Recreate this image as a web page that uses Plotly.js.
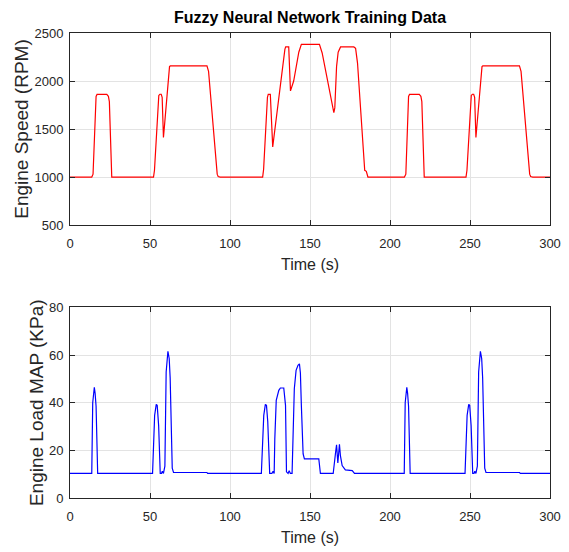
<!DOCTYPE html>
<html>
<head>
<meta charset="utf-8">
<script src="https://cdn.plot.ly/plotly-3.0.1.min.js"></script>
<style>html,body{margin:0;padding:0;background:#fff;}#chart{width:569px;height:552px;}</style>
</head>
<body>
<div id="chart"></div>
<script>
// Engine speed (RPM) vs time (s)
var speedTime = [0, 13.6, 14.4, 16.3, 16.9, 23.0, 24.0, 24.6, 26.1,
  52.2, 52.8, 55.5, 56.2, 57.0, 57.6, 58.4, 59.0, 60.5, 62.2, 62.7, 85.6, 86.6, 92.0, 92.6, 93.9,
  120.4, 121.0, 123.4, 123.9, 125.2, 126.7, 134.3, 134.8, 136.7, 137.8, 139.8, 143.0, 144.6, 155.9, 157.6, 164.9, 165.5, 166.6, 167.6, 169.1, 177.4, 178.5, 179.7, 184.2, 185.2, 186.2,
  209.0, 209.9, 211.6, 212.2, 218.3, 219.3, 219.9, 221.4,
  247.5, 248.1, 250.8, 251.5, 252.3, 252.9, 253.7, 254.3, 255.8, 257.5, 258.0, 280.9, 281.9, 287.3, 287.9, 289.2, 300];
var speedRpm = [1000, 1000, 1030, 1840, 1860, 1860, 1840, 1785, 1000,
  1000, 1070, 1850, 1862, 1862, 1830, 1412, 1525, 1850, 2150, 2157, 2157, 2100, 1030, 1005, 1000,
  1000, 1080, 1830, 1860, 1860, 1314, 2330, 2355, 2355, 1897, 2000, 2300, 2382, 2382, 2292, 1670, 1720, 2150, 2300, 2355, 2355, 2340, 2187, 1070, 1060, 1000,
  1000, 1030, 1840, 1860, 1860, 1840, 1785, 1000,
  1000, 1070, 1850, 1862, 1862, 1830, 1412, 1525, 1850, 2150, 2157, 2157, 2100, 1030, 1005, 1000, 1000];

// Engine load MAP (KPa) vs time (s)
var mapTime = [0, 13.6, 14.2, 14.7, 15.2, 15.7, 16.3, 17.3,
  51.6, 52.9, 53.9, 54.5, 55.4, 56.4, 57.2, 57.7, 58.4, 59.3, 60.1, 61.2, 62.0, 62.6, 63.3, 63.9, 64.7, 85.6, 86.0,
  119.6, 121.1, 122.1, 122.8, 123.6, 124.8, 126.2, 126.9, 127.6, 128.0, 128.9, 130.5, 131.5, 133.6, 134.7, 135.3, 136.3, 137.0, 137.7, 138.8, 139.4, 140.2, 141.3, 142.5, 143.4, 144.0, 144.6, 145.7, 146.5, 155.5, 156.5,
  164.5, 166.0, 166.6, 167.4, 168.4, 169.0, 170.1, 172.1, 176.4, 177.8,
  208.9, 209.5, 210.0, 210.5, 211.0, 211.6, 212.6,
  246.9, 248.2, 249.2, 249.8, 250.7, 251.7, 252.5, 253.0, 253.7, 254.6, 255.4, 256.5, 257.3, 257.9, 258.6, 259.2, 260.0, 281.0, 281.4, 300];
var mapKpa = [10.3, 10.3, 40.0, 44.0, 46.5, 44.0, 38.5, 10.3,
  10.3, 34.7, 39.3, 38.9, 30.4, 10.3, 10.3, 11.2, 10.3, 13.4, 52.9, 61.6, 58.6, 50.5, 26.3, 12.5, 10.7, 10.7, 10.3,
  10.3, 34.7, 39.3, 38.9, 32.0, 10.3, 10.3, 11.2, 10.3, 24.8, 41.0, 45.2, 46.2, 46.2, 38.9, 11.0, 10.3, 11.5, 10.3, 10.3, 32.0, 45.9, 53.6, 55.7, 56.3, 52.5, 38.9, 18.5, 16.4, 16.4, 10.3,
  10.3, 19.2, 22.3, 14.7, 22.6, 17.8, 13.6, 11.8, 11.5, 10.3,
  10.3, 40.0, 44.0, 46.5, 44.0, 38.5, 10.3,
  10.3, 34.7, 39.3, 38.9, 30.4, 10.3, 10.3, 11.2, 10.3, 13.4, 52.9, 61.6, 58.6, 50.5, 26.3, 12.5, 10.7, 10.7, 10.3, 10.3];

var xTickVals = [0, 50, 100, 150, 200, 250, 300];
var speedTickVals = [500, 1000, 1500, 2000, 2500];
var mapTickVals = [0, 20, 40, 60, 80];

var chartTitle = 'Fuzzy Neural Network Training Data';
var xLabel = 'Time (s)';
var speedLabel = 'Engine Speed (RPM)';
var mapLabel = 'Engine Load MAP (KPa)';

var FONT = 'Liberation Sans, Arial, sans-serif';
var INK = '#262626';
var GRID = '#e3e3e3';

function xAxis(anchor) {
  return {
    anchor: anchor, domain: [0, 1], range: [0, 300],
    tickmode: 'array', tickvals: xTickVals,
    ticks: 'inside', ticklen: 5, tickwidth: 1, tickcolor: INK,
    showline: true, linecolor: INK, linewidth: 1, mirror: 'ticks',
    showgrid: true, gridcolor: GRID, gridwidth: 1, zeroline: false,
    tickfont: {family: FONT, size: 13, color: INK},
    ticklabelstandoff: 6,
    title: {text: xLabel, font: {family: FONT, size: 16, color: INK}, standoff: 9}
  };
}
function yAxis(anchor, domain, range, vals, label) {
  return {
    anchor: anchor, domain: domain, range: range,
    tickmode: 'array', tickvals: vals,
    ticks: 'inside', ticklen: 5, tickwidth: 1, tickcolor: INK,
    showline: true, linecolor: INK, linewidth: 1, mirror: 'ticks',
    showgrid: true, gridcolor: GRID, gridwidth: 1, zeroline: false,
    tickfont: {family: FONT, size: 13, color: INK},
    ticklabelstandoff: 3,
    title: {text: label, font: {family: FONT, size: 19, color: INK}, standoff: 0}
  };
}

var traces = [
  {x: speedTime, y: speedRpm, type: 'scatter', mode: 'lines', xaxis: 'x', yaxis: 'y',
   line: {color: '#ff0000', width: 1.2}, hoverinfo: 'x+y'},
  {x: mapTime, y: mapKpa, type: 'scatter', mode: 'lines', xaxis: 'x2', yaxis: 'y2',
   line: {color: '#0000ff', width: 1.2}, hoverinfo: 'x+y'}
];

var layout = {
  width: 569, height: 552,
  margin: {l: 70, r: 19, t: 33, b: 54},
  paper_bgcolor: '#ffffff', plot_bgcolor: '#ffffff',
  showlegend: false,
  title: {text: '<b>' + chartTitle + '</b>', font: {family: FONT, size: 16, color: '#000000'},
          x: 0.5, xref: 'paper', xanchor: 'center', y: 0.969, yref: 'container', yanchor: 'middle'},
  xaxis: xAxis('y'),
  yaxis: yAxis('x', [0.587, 1], [500, 2500], speedTickVals, speedLabel),
  xaxis2: xAxis('y2'),
  yaxis2: yAxis('x2', [0, 0.4097], [0, 80], mapTickVals, mapLabel)
};

Plotly.newPlot('chart', traces, layout, {displayModeBar: false, staticPlot: true});
</script>
</body>
</html>
